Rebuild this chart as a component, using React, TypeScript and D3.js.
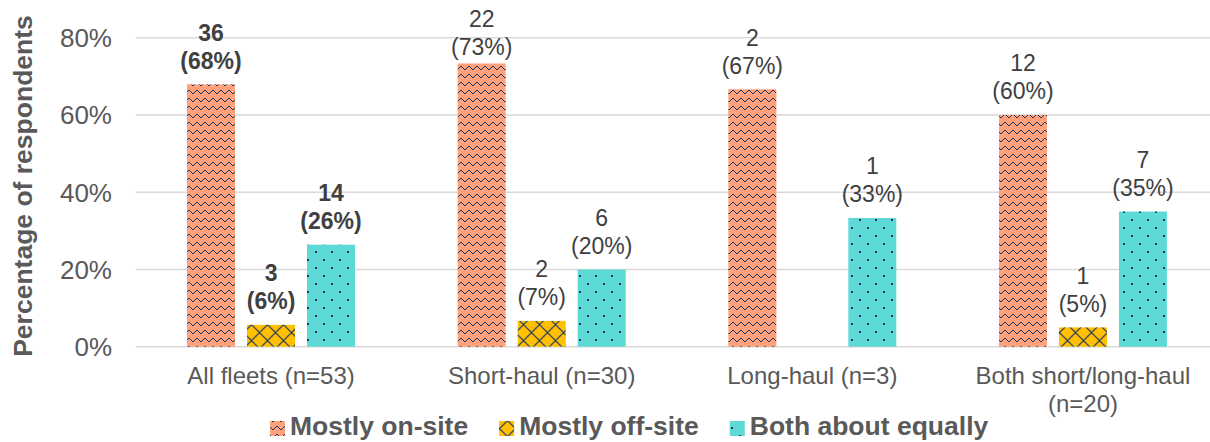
import React from "react";
import * as d3 from "d3";

// Survey responses: where work is mostly done, by fleet type
const categories = [
  "All fleets (n=53)",
  "Short-haul (n=30)",
  "Long-haul (n=3)",
  "Both short/long-haul (n=20)",
];
const respondents = [53, 30, 3, 20];
const seriesNames = ["Mostly on-site", "Mostly off-site", "Both about equally"];
const onSiteCounts = [36, 22, 2, 12];
const offSiteCounts = [3, 2, 0, 1];
const equallyCounts = [14, 6, 1, 7];
const yTickValues = [0, 0.2, 0.4, 0.6, 0.8];

const seriesCounts = [onSiteCounts, offSiteCounts, equallyCounts];

// ---- layout & style ----
const W = 1210;
const H = 442;
const FONT = "'Liberation Sans', Arial, Helvetica, sans-serif";
const NAVY = "#1F3864";
const SALMON = "#FFA27C";
const GOLD = "#FFC000";
const TEAL = "#5DDAD6";
const GRID = "#D9D9D9";
const TEXT = "#595959";
const LABEL_TEXT = "#404040";
const PLOT_LEFT = 135.7;
const PLOT_RIGHT = 1218.3;
const Y_ZERO = 346.7;
const Y_TOP = 37.7;
const GROUP_SPAN = 168;
const LABEL_FONT = 23;
const LABEL_LINE = 28;
const LABEL_GAP = 15.5;
const LABEL_MIN_BASELINE = 26.5;
const BOLD_GROUP_INDEX = 0;
const patternIds = ["pat-wave", "pat-trellis", "pat-dots"];

// Wave rows used by the on-site fill (one navy pixel per column)
const WAVE_LEVELS = [3, 3, 2, 1, 0, 0, 1, 2];
const TRELLIS = d3.range(16);

let measureCtx: CanvasRenderingContext2D | null = null;
function textWidth(text: string, font: string): number {
  if (!measureCtx) measureCtx = document.createElement("canvas").getContext("2d");
  if (!measureCtx) return text.length * 10;
  measureCtx.font = font;
  return measureCtx.measureText(text).width;
}

function wrapWords(text: string, font: string, maxWidth: number): string[] {
  const words = text.split(" ");
  const lines: string[] = [];
  let line = "";
  for (const w of words) {
    const candidate = line ? line + " " + w : w;
    if (line && textWidth(candidate, font) > maxWidth) {
      lines.push(line);
      line = w;
    } else {
      line = candidate;
    }
  }
  if (line) lines.push(line);
  return lines;
}

export default function App() {
  const x0 = d3.scaleBand<string>().domain(categories).range([PLOT_LEFT, PLOT_RIGHT]);
  const x1 = d3.scaleBand<string>().domain(seriesNames).range([0, GROUP_SPAN]).paddingInner(0.2);
  const y = d3.scaleLinear().domain([0, 0.8]).range([Y_ZERO, Y_TOP]);
  const pctFmt = d3.format(".0%");

  const catFont = `24px ${FONT}`;
  const legendFontSize = 26.5;
  const legendFont = `bold ${legendFontSize}px ${FONT}`;

  // legend layout: swatch, gap, text, spacing
  const legendStart = 270;
  const swatch = 15;
  let lx = legendStart;
  const legendItems = seriesNames.map((name, i) => {
    const item = { name, i, x: lx };
    lx += swatch + 5 + textWidth(name, legendFont) + 31;
    return item;
  });

  return (
    <svg
      width={W}
      height={H}
      style={{ position: "absolute", left: 0, top: 0, background: "#fff" }}
      fontFamily={FONT}
    >
      <defs>
        <pattern id="pat-wave" width={8} height={8} patternUnits="userSpaceOnUse">
          <rect width={8} height={8} fill={SALMON} />
          {WAVE_LEVELS.map((lv, i) => (
            <rect key={i} x={i} y={lv + 2} width={1} height={1} fill={NAVY} />
          ))}
        </pattern>
        <pattern
          id="pat-trellis"
          x={11.5}
          y={5}
          width={16}
          height={16}
          patternUnits="userSpaceOnUse"
        >
          <rect width={16} height={16} fill={GOLD} />
          {TRELLIS.map((i) => (
            <React.Fragment key={i}>
              <rect x={i} y={i} width={1.6} height={1} fill={NAVY} />
              <rect x={15 - i - 0.6} y={i} width={1.6} height={1} fill={NAVY} />
            </React.Fragment>
          ))}
        </pattern>
        <pattern id="pat-dots" width={16} height={16} patternUnits="userSpaceOnUse">
          <rect width={16} height={16} fill={TEAL} />
          <rect x={3} y={3} width={2} height={2} fill={NAVY} />
          <rect x={11} y={11} width={2} height={2} fill={NAVY} />
        </pattern>
      </defs>

      {/* gridlines */}
      {yTickValues.map((t) => (
        <line
          key={t}
          x1={PLOT_LEFT}
          x2={PLOT_RIGHT}
          y1={y(t)}
          y2={y(t)}
          stroke={GRID}
          strokeWidth={1.5}
        />
      ))}

      {/* y tick labels */}
      {yTickValues.map((t) => (
        <text
          key={t}
          x={112}
          y={y(t)}
          dy="0.36em"
          textAnchor="end"
          fontSize={26}
          fill={TEXT}
        >
          {pctFmt(t)}
        </text>
      ))}

      {/* y axis title */}
      <text
        transform={`translate(32,186) rotate(-90)`}
        textAnchor="middle"
        fontSize={26.5}
        fontWeight="bold"
        fill={TEXT}
      >
        Percentage of respondents
      </text>

      {/* bars */}
      {categories.map((cat, ci) => {
        const gx = (x0(cat) ?? 0) + (x0.bandwidth() - GROUP_SPAN) / 2;
        return (
          <g key={cat}>
            {seriesNames.map((s, si) => {
              const count = seriesCounts[si][ci];
              const share = count / respondents[ci];
              if (count === 0) return null;
              const bx = gx + (x1(s) ?? 0);
              return (
                <rect
                  key={s}
                  x={bx}
                  y={y(share)}
                  width={x1.bandwidth()}
                  height={Y_ZERO - y(share)}
                  fill={`url(#${patternIds[si]})`}
                />
              );
            })}
          </g>
        );
      })}

      {/* data labels */}
      {categories.map((cat, ci) => {
        const gx = (x0(cat) ?? 0) + (x0.bandwidth() - GROUP_SPAN) / 2;
        return (
          <g key={cat}>
            {seriesNames.map((s, si) => {
              const count = seriesCounts[si][ci];
              if (count === 0) return null;
              const share = count / respondents[ci];
              const cx = gx + (x1(s) ?? 0) + x1.bandwidth() / 2;
              let b2 = y(share) - LABEL_GAP;
              let b1 = b2 - LABEL_LINE;
              if (b1 < LABEL_MIN_BASELINE) {
                b1 = LABEL_MIN_BASELINE;
                b2 = b1 + LABEL_LINE;
              }
              const bold = ci === BOLD_GROUP_INDEX;
              return (
                <text
                  key={s}
                  textAnchor="middle"
                  fontSize={LABEL_FONT}
                  fontWeight={bold ? "bold" : "normal"}
                  fill={LABEL_TEXT}
                >
                  <tspan x={cx} y={b1}>
                    {count}
                  </tspan>
                  <tspan x={cx} y={b2}>
                    ({pctFmt(share)})
                  </tspan>
                </text>
              );
            })}
          </g>
        );
      })}

      {/* category labels */}
      {categories.map((cat) => {
        const cx = (x0(cat) ?? 0) + x0.bandwidth() / 2;
        const lines = wrapWords(cat, catFont, x0.bandwidth() - 10);
        return (
          <text key={cat} textAnchor="middle" fontSize={24} fill={TEXT}>
            {lines.map((ln, i) => (
              <tspan key={i} x={cx} y={384 + i * 28}>
                {ln}
              </tspan>
            ))}
          </text>
        );
      })}

      {/* legend */}
      {legendItems.map((it) => (
        <g key={it.name}>
          <rect
            x={it.x}
            y={421}
            width={swatch}
            height={swatch}
            fill={`url(#${patternIds[it.i]})`}
          />
          <text
            x={it.x + swatch + 5}
            y={435}
            fontSize={legendFontSize}
            fontWeight="bold"
            fill={TEXT}
          >
            {it.name}
          </text>
        </g>
      ))}
    </svg>
  );
}
